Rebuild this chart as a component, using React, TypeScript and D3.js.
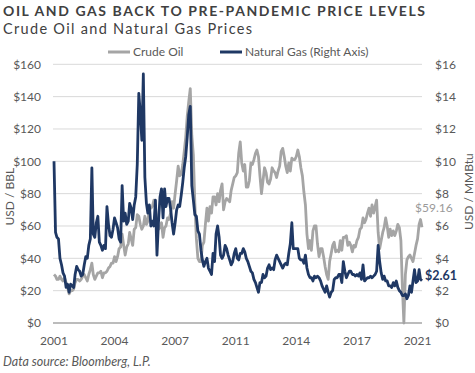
import * as d3 from 'd3';
import React from 'react';

// monthly readings, Jan 2001 .. Mar 2021 (first of each month)
const crudeOil = [
  30, 29, 27, 27, 29, 27, 26, 28, 25, 22, 18, 20,
  20, 21, 25, 27, 27, 26, 27, 29, 30, 28, 26, 30,
  33, 37, 30, 27, 29, 31, 31, 32, 28, 31, 31, 32,
  34, 35, 37, 37, 41, 38, 41, 46, 47, 55, 48, 42,
  47, 49, 56, 52, 48, 58, 59, 67, 66, 61, 58, 60,
  66, 61, 63, 71, 71, 72, 76, 72, 62, 58, 59, 62,
  53, 59, 60, 65, 64, 68, 75, 71, 80, 88, 97, 91,
  92, 98, 106, 115, 128, 137, 145, 116, 104, 74, 52, 40,
  38, 38, 48, 50, 61, 71, 63, 72, 68, 78, 78, 73,
  80, 75, 82, 86, 70, 75, 77, 76, 75, 82, 86, 90,
  91, 93, 105, 112, 99, 94, 98, 84, 84, 88, 99, 98,
  101, 105, 107, 103, 91, 80, 88, 96, 93, 87, 86, 89,
  96, 94, 93, 90, 94, 97, 106, 108, 103, 97, 93, 99,
  94, 102, 101, 101, 103, 107, 103, 96, 91, 81, 73, 55,
  46, 51, 45, 57, 60, 60, 49, 41, 46, 46, 41, 35,
  30, 27, 38, 43, 48, 50, 44, 45, 44, 51, 45, 53,
  53, 54, 48, 50, 48, 44, 48, 47, 51, 53, 58, 59,
  65, 62, 64, 68, 71, 66, 73, 68, 72, 76, 56, 46,
  51, 56, 59, 65, 60, 53, 58, 54, 57, 54, 57, 61,
  59, 51, 23, 0, 30, 39, 41, 42, 40, 38, 43, 48,
  52, 61, 64,
];

const naturalGas = [
  10.0, 5.6, 5.3, 5.2, 4.0, 3.6, 3.1, 2.9, 2.2, 2.4, 1.9, 2.4,
  2.3, 2.2, 3.0, 3.5, 3.3, 3.2, 2.9, 3.0, 3.6, 4.1, 4.0, 4.8,
  5.2, 9.6, 5.5, 5.3, 6.2, 6.6, 5.0, 4.8, 4.5, 4.8, 4.6, 7.2,
  6.1, 5.4, 5.3, 5.8, 6.5, 6.2, 5.9, 5.2, 5.0, 8.5, 6.3, 6.8,
  6.1, 6.3, 7.4, 7.1, 6.4, 7.3, 7.8, 9.8, 14.2, 13.0, 11.3, 15.4,
  9.0, 7.4, 6.8, 7.3, 6.0, 6.3, 6.0, 7.6, 4.2, 6.2, 7.8, 8.3,
  6.5, 8.3, 7.2, 7.7, 7.7, 7.1, 6.2, 5.5, 6.2, 7.0, 7.3, 7.2,
  7.9, 8.7, 9.6, 10.3, 11.5, 12.9, 13.4, 8.5, 7.6, 6.7, 6.6, 5.7,
  5.5, 4.5, 3.9, 3.5, 3.8, 4.0, 3.4, 3.2, 3.0, 4.3, 3.8, 5.5,
  6.0, 5.3, 4.2, 4.0, 4.2, 4.8, 4.6, 4.2, 3.9, 3.6, 3.8, 4.3,
  4.6, 4.0, 3.9, 4.3, 4.3, 4.6, 4.4, 4.0, 3.8, 3.5, 3.2, 3.1,
  2.7, 2.5, 2.2, 1.9, 2.5, 2.5, 3.0, 2.8, 2.9, 3.4, 3.6, 3.3,
  3.4, 3.3, 3.9, 4.2, 4.0, 3.8, 3.6, 3.4, 3.6, 3.7, 3.6, 4.3,
  4.9, 6.2, 4.6, 4.6, 4.6, 4.6, 4.0, 3.9, 3.9, 3.7, 4.2, 3.4,
  3.0, 2.8, 2.8, 2.6, 2.9, 2.8, 2.9, 2.8, 2.6, 2.3, 2.1, 1.9,
  2.3, 1.9, 1.6, 1.9, 2.0, 2.7, 2.8, 2.8, 3.0, 3.0, 2.5, 3.8,
  3.2, 2.8, 3.0, 3.2, 3.2, 3.0, 3.0, 2.9, 3.0, 2.9, 3.1, 2.7,
  3.6, 2.6, 2.7, 2.8, 2.8, 2.9, 2.8, 2.9, 3.0, 3.2, 4.8, 3.8,
  3.1, 2.7, 2.9, 2.6, 2.6, 2.3, 2.3, 2.2, 2.5, 2.3, 2.6, 2.2,
  2.0, 1.9, 1.7, 1.7, 1.8, 1.5, 1.7, 2.3, 1.9, 2.6, 3.3, 2.5,
  2.6, 3.3, 2.7,
];

// last close, 31 Mar 2021
const crudeOilLast = 59.16;
const naturalGasLast = 2.61;

const oilTicks = [0, 20, 40, 60, 80, 100, 120, 140, 160];
const gasTicks = [0, 2, 4, 6, 8, 10, 12, 14, 16];
const yearLabels = ['2001', '2004', '2007', '2011', '2014', '2017', '2021'];

const GREY = '#A5A5A5';
const NAVY = '#1F3864';
const TEXT = '#595959';
const FONT = 'Lato, "Open Sans", sans-serif';

export default function App() {
  const width = 475;
  const height = 373;
  const left = 54;
  const right = 422;
  const top = 64.3;
  const bottom = 323;

  const start = new Date(2001, 0, 1);
  const end = new Date(2021, 2, 31);

  const x = d3.scaleTime().domain([start, end]).range([left, right]);
  const yOil = d3.scaleLinear().domain([0, 160]).range([bottom, top]);
  const yGas = d3.scaleLinear().domain([0, 16]).range([bottom, top]);

  // major unit of 40 months, like the source axis
  const tickDates = yearLabels.map((_, i) => new Date(2001, i * 40, 1));

  const oilPts: [Date, number][] = crudeOil.map((v, i) => [new Date(2001, i, 1), v]);
  oilPts.push([end, crudeOilLast]);
  const gasPts: [Date, number][] = naturalGas.map((v, i) => [new Date(2001, i, 1), v]);
  gasPts.push([end, naturalGasLast]);

  const oilLine = d3.line<[Date, number]>().x(d => x(d[0])).y(d => yOil(d[1]));
  const gasLine = d3.line<[Date, number]>().x(d => x(d[0])).y(d => yGas(d[1]));

  const fmt = (v: number) => `$${v}`;

  return (
    <svg
      width={width}
      height={height}
      style={{ position: 'fixed', left: 0, top: 0, background: '#fff' }}
      fontFamily={FONT}
    >
      <text x={3} y={16} fontWeight={700} fontSize={14}
        fill="#404040" textLength={422} lengthAdjust="spacing">
        OIL AND GAS BACK TO PRE-PANDEMIC PRICE LEVELS
      </text>
      <text x={3} y={34} fontSize={14.5}
        fill="#404040" textLength={249} lengthAdjust="spacing">
        Crude Oil and Natural Gas Prices
      </text>

      {/* legend */}
      <line x1={108} x2={130} y1={52} y2={52} stroke={GREY} strokeWidth={3} />
      <text x={133} y={56} fontSize={12} fill={TEXT}>Crude Oil</text>
      <line x1={220} x2={242} y1={52} y2={52} stroke={NAVY} strokeWidth={3} />
      <text x={245} y={56} fontSize={12} fill={TEXT}>Natural Gas (Right Axis)</text>

      {/* grid */}
      {oilTicks.filter(t => t > 0).map(t => (
        <line key={t} x1={left - 1} x2={right} y1={yOil(t)} y2={yOil(t)} stroke="#D9D9D9" strokeWidth={1} />
      ))}

      {/* left axis */}
      {oilTicks.map(t => (
        <text key={t} x={41} y={yOil(t)} dy="0.35em" textAnchor="end" fontSize={12} fill={TEXT}>
          {fmt(t)}
        </text>
      ))}
      <text transform={`translate(9,${(top + bottom) / 2 + 3}) rotate(-90)`} textAnchor="middle"
        dominantBaseline="central" fontSize={12} fill={TEXT}>
        USD / BBL
      </text>

      {/* right axis */}
      {gasTicks.map(t => (
        <text key={t} x={435} y={yGas(t)} dy="0.35em" textAnchor="start" fontSize={12} fill={TEXT}>
          {fmt(t)}
        </text>
      ))}
      <text transform={`translate(468,${(top + bottom) / 2 - 2}) rotate(-90)`} textAnchor="middle"
        dominantBaseline="central" fontSize={12} fill={TEXT}>
        USD / MMBtu
      </text>

      {/* bottom axis */}
      {tickDates.map((d, i) => (
        <text key={i} x={x(d)} y={345} textAnchor="middle" fontSize={12} fill={TEXT}>
          {yearLabels[i]}
        </text>
      ))}

      {/* series */}
      <path d={oilLine(oilPts) ?? ''} fill="none" stroke={GREY} strokeWidth={2.8} strokeLinejoin="round" />
      <path d={gasLine(gasPts) ?? ''} fill="none" stroke={NAVY} strokeWidth={2.8} strokeLinejoin="round" />

      <line x1={left - 1} x2={right} y1={bottom} y2={bottom} stroke="#A6A6A6" strokeWidth={1.5} />

      {/* end labels */}
      <text x={415} y={212} fontSize={12} fill="#9A9A9A">${crudeOilLast.toFixed(2)}</text>
      <text x={425} y={280} fontSize={12.5} fontWeight={700} fill={NAVY}>${naturalGasLast.toFixed(2)}</text>

      <text x={3} y={366} fontSize={12.5} fontStyle="italic" fill={TEXT}>
        Data source: Bloomberg, L.P.
      </text>
    </svg>
  );
}
